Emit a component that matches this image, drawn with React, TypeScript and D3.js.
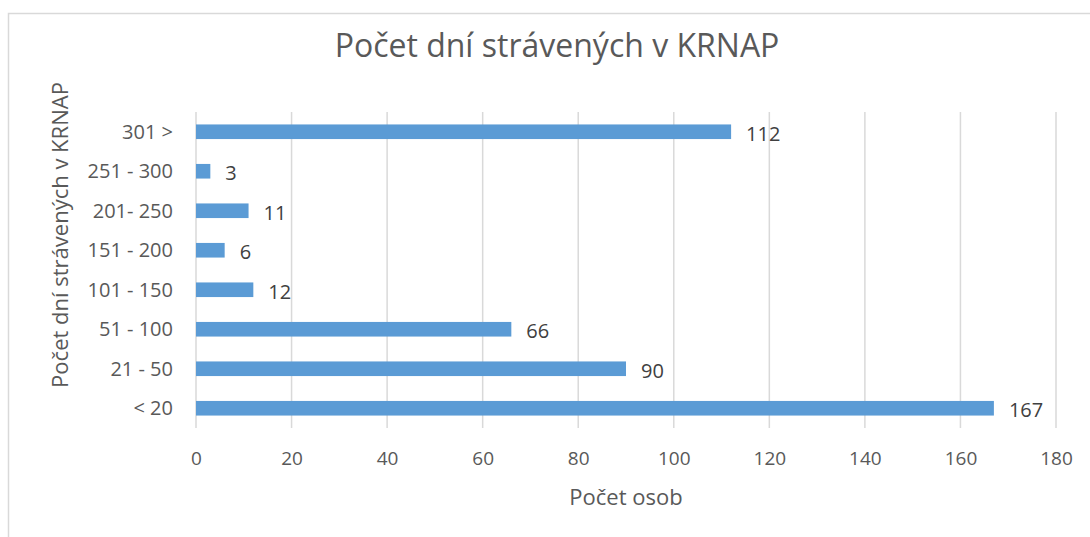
import { useEffect, useRef } from "react";
import { axisBottom, scaleBand, scaleLinear, select } from "d3";

const categories = ["< 20", "21 - 50", "51 - 100", "101 - 150", "151 - 200", "201- 250", "251 - 300", "301 >"];
const counts = [167, 90, 66, 12, 6, 11, 3, 112];
const xTicks = [0, 20, 40, 60, 80, 100, 120, 140, 160, 180];

const FONT = "Open Sans, Liberation Sans, sans-serif";
const TEXT = "#595959";

export default function App() {
  const W = 1090;
  const H = 537;
  const plot = { left: 196, right: 1056, top: 112, bottom: 428 };

  const x = scaleLinear().domain([0, 180]).range([plot.left, plot.right]);
  const y = scaleBand()
    .domain([...categories].reverse())
    .range([plot.top, plot.bottom])
    .paddingInner(0.63)
    .paddingOuter(0.315);

  const axisRef = useRef(null);

  useEffect(() => {
    if (axisRef.current) {
      const g = select(axisRef.current);
      g.call(axisBottom(x).tickValues(xTicks).tickSize(0).tickPadding(24));
      g.select(".domain").remove();
      g.selectAll("text")
        .attr("fill", TEXT)
        .style("font-family", FONT)
        .style("font-size", "19px");
    }
  }, []);

  return (
    <svg width={W} height={H} style={{ position: "absolute", left: 0, top: 0 }}>
      <rect x={0} y={0} width={W} height={H} fill="#fff" />
      <rect x={8.5} y={13.5} width={W + 10} height={H + 10} fill="none" stroke="#d9d9d9" strokeWidth={1.5} />

      <text x={557} y={57} textAnchor="middle" fill={TEXT} fontFamily={FONT} fontSize={32}>
        Počet dní strávených v KRNAP
      </text>

      {xTicks.map((t) => (
        <line key={`grid-${t}`} x1={x(t)} x2={x(t)} y1={plot.top} y2={plot.bottom} stroke="#d9d9d9" strokeWidth={1.5} />
      ))}

      {categories.map((c, i) => (
        <rect
          key={`bar-${c}`}
          x={x(0)}
          y={y(c)}
          width={x(counts[i]) - x(0)}
          height={y.bandwidth()}
          fill="#5b9bd5"
        />
      ))}

      {categories.map((c, i) => (
        <text
          key={`lbl-${c}`}
          x={x(counts[i]) + 15}
          y={y(c) + y.bandwidth() / 2 + 2}
          dy="0.35em"
          fill="#404040"
          fontFamily={FONT}
          fontSize={20}
        >
          {counts[i]}
        </text>
      ))}

      {categories.map((c) => (
        <text
          key={`cat-${c}`}
          x={173}
          y={y(c) + y.bandwidth() / 2}
          dy="0.35em"
          textAnchor="end"
          fill={TEXT}
          fontFamily={FONT}
          fontSize={20}
        >
          {c}
        </text>
      ))}

      <g ref={axisRef} transform={`translate(0, ${plot.bottom})`} />

      <text x={626} y={505} textAnchor="middle" fill={TEXT} fontFamily={FONT} fontSize={22}>
        Počet osob
      </text>
      <text
        transform={`translate(68, ${(plot.top + plot.bottom) / 2 - 35}) rotate(-90)`}
        textAnchor="middle"
        fill={TEXT}
        fontFamily={FONT}
        fontSize={22}
      >
        Počet dní strávených v KRNAP
      </text>
    </svg>
  );
}
